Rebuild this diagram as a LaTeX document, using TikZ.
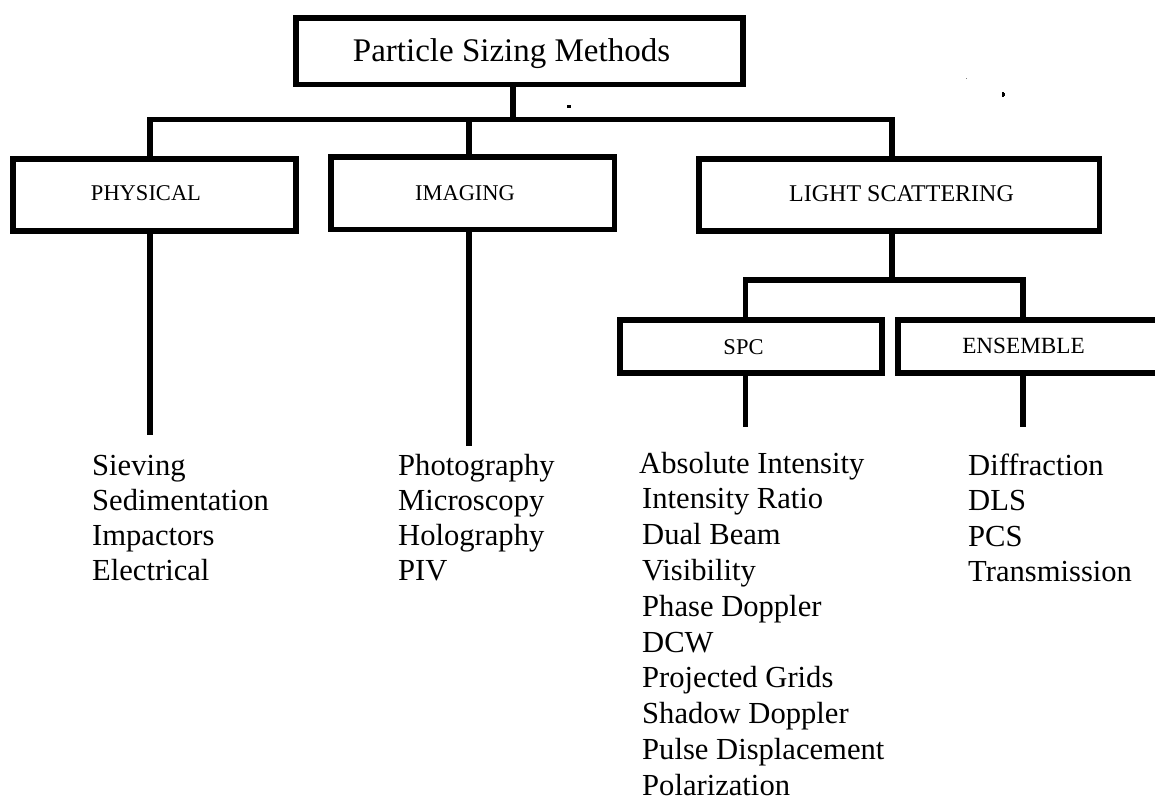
\documentclass[tikz,border=0pt]{standalone}
\usepackage{fontspec}
\setmainfont{Liberation Serif}
\begin{document}
\begin{tikzpicture}[x=1pt,y=-1pt,
  thick line/.style={line width=5.7pt},
  box/.style={draw, thick line, rectangle, inner sep=0pt, outer sep=0pt},
  conn/.style={thick line, line cap=rect, line join=miter},
  leaf/.style={thick line, line cap=butt},
  boxtext/.style={inner sep=0pt, anchor=base, font=\fontsize{22.5}{27}\selectfont},
  titletext/.style={inner sep=0pt, anchor=base, font=\fontsize{33}{40}\selectfont},
  item/.style={inner sep=0pt, anchor=base west, font=\fontsize{30.6}{36}\selectfont},
]
\useasboundingbox (0,0) rectangle (1155,800);
\clip (0,0) rectangle (1155,800);

% boxes
\node[box, minimum width=447pt, minimum height=66.5pt] (title) at (519.5,51.25) {};
\node[box, minimum width=283pt, minimum height=72pt] (phys) at (154.5,195) {};
\node[box, minimum width=283.5pt, minimum height=72.5pt] (img) at (472.75,193.25) {};
\node[box, minimum width=400.5pt, minimum height=72pt] (ls) at (899.25,195) {};
\node[box, minimum width=262pt, minimum height=53pt] (spc) at (751,346.5) {};
\node[box, minimum width=290pt, minimum height=53pt] (ens) at (1043,346.5) {};

% box texts
\node[titletext] (titleT) at (511.5,62) {Particle Sizing Methods};
\node[boxtext] (physT) at (146,200) {PHYSICAL};
\node[boxtext] (imgT) at (465,200.5) {IMAGING};
\node[boxtext, font=\fontsize{24}{28}\selectfont] (lsT) at (901.5,201) {LIGHT SCATTERING};
\node[boxtext] (spcT) at (743.5,354) {SPC};
\node[boxtext, font=\fontsize{23.2}{28}\selectfont] (ensT) at (1023.5,353) {ENSEMBLE};

% first level connectors
\coordinate (j0) at (513,119.5);
\coordinate (jP) at (150,119.5);
\coordinate (jI) at (469,119.5);
\coordinate (jL) at (892,119.5);
\draw[conn] (title.south -| j0) -- (j0);
\draw[conn] (jP |- phys.north) -- (jP) -- (jL) -- (jL |- ls.north);
\draw[conn] (jI) -- (jI |- img.north);

% second level connectors
\coordinate (k0) at (892,280);
\coordinate (kS) at (745.5,280);
\coordinate (kE) at (1023,280);
\draw[conn] (ls.south -| k0) -- (k0);
\draw[conn] (kS |- spc.north) -- (kS) -- (kE) -- (kE |- ens.north);

% leaf lines
\coordinate (eP) at (150,435);
\coordinate (eI) at (469,446);
\coordinate (eS) at (745.5,427);
\coordinate (eE) at (1023,427);
\draw[leaf] (phys.south -| eP) -- (eP);
\draw[leaf] (img.south -| eI) -- (eI);
\draw[leaf] (spc.south -| eS) -- (eS);
\draw[leaf] (ens.south -| eE) -- (eE);

% lists
\foreach \t [count=\i] in {Sieving,Sedimentation,Impactors,Electrical}
  \node[item] (pl\i) at (92,{475+35.3*(\i-1)}) {\t};
\foreach \t [count=\i] in {Photography,Microscopy,Holography,PIV}
  \node[item] (il\i) at (398,{475+35.3*(\i-1)}) {\t};
\node[item] (sl1) at (639,473) {Absolute Intensity};
\foreach \t [count=\i from 2] in {Intensity Ratio,Dual Beam,Visibility,Phase Doppler,DCW,Projected Grids,Shadow Doppler,Pulse Displacement,Polarization}
  \node[item] (sl\i) at (642,{473+35.8*(\i-1)}) {\t};
\foreach \t [count=\i] in {Diffraction,DLS,PCS,Transmission}
  \node[item] (el\i) at (968,{475+35.5*(\i-1)}) {\t};

% small stray marks
\fill (567,105) rectangle (571,107.5);
\fill[gray] (965.5,77.5) rectangle (967,79);
\fill (1001.5,93) rectangle (1004.5,95.5);
\fill (1002,92) rectangle (1004,96.5);
\end{tikzpicture}
\end{document}
